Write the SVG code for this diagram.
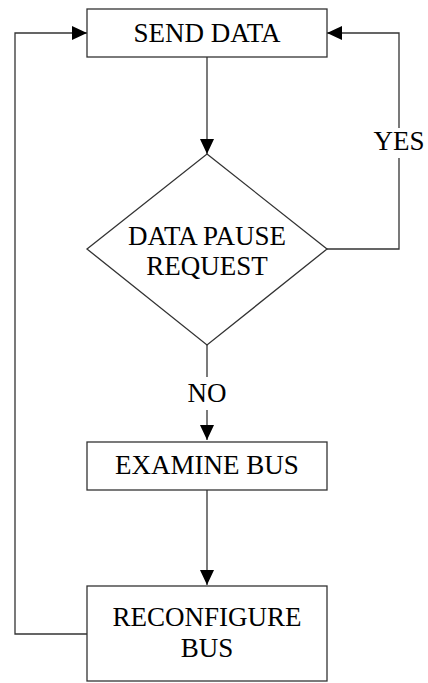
<svg xmlns="http://www.w3.org/2000/svg" width="428" height="683" viewBox="0 0 428 683">
<style>
.box{fill:#fff;stroke:#333;stroke-width:1.3}
.ln{fill:none;stroke:#333;stroke-width:1.3}
text{font-family:'Liberation Serif','DejaVu Serif',serif;font-size:27px;fill:#000;text-anchor:middle}
</style>
<defs>
<marker id="ah" markerUnits="userSpaceOnUse" markerWidth="16" markerHeight="14" refX="15" refY="7" orient="auto">
<path d="M0,0 L15,7 L0,14 Z" fill="#000"/>
</marker>
</defs>
<rect width="428" height="683" fill="#fff"/>
<g id="connectors">
<line class="ln" x1="207" y1="57" x2="207" y2="154" marker-end="url(#ah)"/>
<polyline class="ln" points="327,249 399,249 399,158"/>
<polyline class="ln" points="399,128 399,33 327,33" marker-end="url(#ah)"/>
<line class="ln" x1="207" y1="345" x2="207" y2="377"/>
<line class="ln" x1="207" y1="410" x2="207" y2="440" marker-end="url(#ah)"/>
<line class="ln" x1="207" y1="490" x2="207" y2="585" marker-end="url(#ah)"/>
<polyline class="ln" points="87,634 15,634 15,33 87,33" marker-end="url(#ah)"/>
<text x="399" y="150">YES</text>
<text x="207" y="402">NO</text>
</g>
<g id="send-data">
<rect class="box" x="87" y="9" width="240" height="48"/>
<text x="207" y="42">SEND DATA</text>
</g>
<g id="data-pause-request">
<polygon class="box" points="207,154 327,249 207,345 87,249"/>
<text x="207" y="245">DATA PAUSE</text>
<text x="207" y="275">REQUEST</text>
</g>
<g id="examine-bus">
<rect class="box" x="87" y="442" width="240" height="48"/>
<text x="207" y="474">EXAMINE BUS</text>
</g>
<g id="reconfigure-bus">
<rect class="box" x="87" y="586" width="240" height="95"/>
<text x="207" y="626">RECONFIGURE</text>
<text x="207" y="657">BUS</text>
</g>
</svg>
